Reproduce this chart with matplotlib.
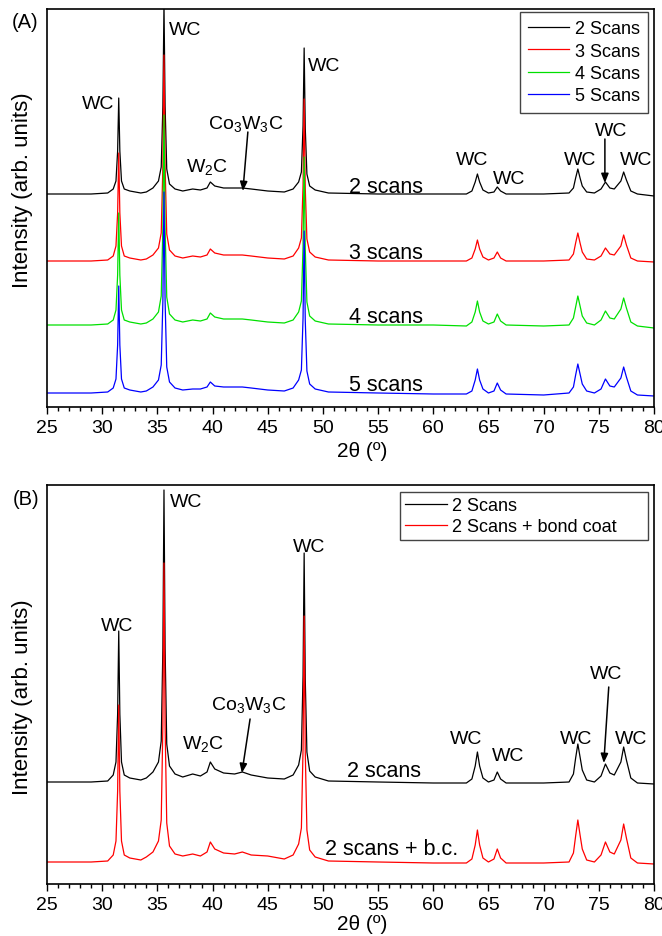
import numpy as np
import matplotlib
matplotlib.use('Agg')
import matplotlib.pyplot as plt
from matplotlib.ticker import MultipleLocator

plt.rcParams['font.family'] = ['Liberation Sans', 'DejaVu Sans']
plt.rcParams['mathtext.fontset'] = 'custom'
plt.rcParams['mathtext.rm'] = 'Liberation Sans'

two_theta = [25, 27, 29, 30.5, 31.0, 31.25, 31.4, 31.5, 31.6, 31.75,
             32.0, 32.5, 33.5, 34.0, 34.6, 35.1, 35.35, 35.5, 35.6, 35.7,
             35.85, 36.1, 36.6, 37.3, 38.2, 38.9, 39.5, 39.8, 40.2, 41.0,
             42.0, 42.7, 43.5, 45.0, 46.5, 47.3, 47.8, 48.05, 48.2, 48.3,
             48.4, 48.55, 48.8, 49.3, 50.5, 55, 60, 63.0, 63.5, 63.8,
             64.0, 64.2, 64.5, 65.0, 65.5, 65.8, 66.1, 66.6, 70, 72.3,
             72.7, 72.9, 73.1, 73.3, 73.5, 73.9, 74.6, 75.2, 75.6, 76.0,
             76.4, 77.0, 77.25, 77.5, 77.9, 78.5, 80]

# intensidades (u.a.) acima da linha de base de cada curva - painel A
a_2scans = [0, 0, 0, 1, 5, 13, 43, 96, 43, 13,
            5, 3, 1, 2, 6, 13, 27, 88, 190, 88,
            25, 10, 5, 3, 5, 4, 6, 12, 8, 6,
            6, 6, 5, 3, 2, 5, 12, 22, 68, 146,
            66, 20, 8, 4, 1, 0, 0, 0, 3, 12,
            20, 12, 4, 1, 2, 7, 3, 0, 0, 1,
            6, 16, 25, 16, 8, 2, 1, 5, 12, 6,
            5, 13, 22, 14, 3, 0, -2]
a_3scans = [0, 0, 0, 1, 5, 15, 48, 108, 48, 15,
            5, 3, 1, 2, 6, 13, 28, 95, 206, 95,
            27, 11, 5, 3, 5, 4, 6, 12, 8, 6,
            6, 6, 5, 3, 2, 5, 13, 23, 75, 162,
            73, 22, 9, 4, 1, 0, 0, 0, 3, 12,
            21, 12, 4, 1, 3, 9, 3, 0, 0, 1,
            7, 18, 28, 18, 9, 2, 1, 5, 13, 7,
            6, 15, 26, 16, 3, 0, -1]
a_4scans = [0, 0, 0, 1, 5, 15, 50, 112, 50, 15,
            5, 3, 1, 2, 6, 13, 29, 97, 210, 97,
            28, 11, 5, 3, 5, 4, 6, 12, 8, 6,
            6, 6, 5, 3, 2, 5, 13, 24, 78, 168,
            76, 23, 9, 4, 1, 0, 0, -1, 3, 13,
            24, 13, 4, 1, 3, 11, 4, 0, -1, 0,
            7, 18, 29, 19, 9, 2, 0, 5, 14, 7,
            6, 16, 27, 17, 3, -1, -3]
a_5scans = [0, 0, 0, 1, 5, 14, 48, 107, 48, 14,
            5, 3, 1, 2, 6, 13, 28, 92, 201, 92,
            26, 11, 5, 3, 4, 4, 6, 11, 7, 6,
            6, 6, 5, 3, 2, 5, 13, 23, 75, 162,
            73, 22, 9, 4, 1, 0, -1, -1, 2, 13,
            24, 13, 4, 0, 2, 10, 3, -1, -2, 0,
            6, 18, 29, 19, 9, 2, 0, 4, 14, 7,
            6, 15, 26, 16, 2, -2, -3]

# painel B
b_2scans = [0, 0, 0, 1, 7, 20, 68, 151, 68, 20,
            7, 4, 2, 4, 10, 20, 41, 134, 292, 134,
            38, 16, 8, 5, 8, 6, 10, 20, 13, 9,
            8, 10, 7, 4, 3, 7, 17, 32, 106, 229,
            103, 30, 11, 5, 1, 0, -1, -1, 3, 16,
            30, 16, 4, 0, 2, 10, 3, -1, -1, 0,
            8, 24, 38, 25, 12, 2, 0, 6, 18, 9,
            7, 20, 35, 22, 4, -1, -2]
b_2scans_bc = [0, 0, 0, 1, 7, 21, 71, 157, 71, 21,
               7, 4, 2, 5, 10, 21, 42, 137, 299, 137,
               39, 16, 8, 6, 8, 6, 10, 20, 13, 9,
               8, 10, 7, 6, 3, 7, 18, 34, 113, 246,
               111, 32, 12, 5, 1, 0, -1, -1, 3, 17,
               32, 17, 4, 0, 3, 13, 4, -1, -1, 0,
               9, 26, 42, 27, 13, 2, 0, 7, 20, 10,
               8, 22, 38, 24, 4, -1, -2]

labels_a = ['2 Scans', '3 Scans', '4 Scans', '5 Scans']
labels_b = ['2 Scans', '2 Scans + bond coat']
colors_a = ['black', '#ff0000', '#00e000', '#0000ff']
colors_b = ['black', '#ff0000']
# deslocamento vertical de cada curva (empilhamento)
offsets_a = [213, 146, 82, 14]
offsets_b = [102, 22]

W, H = 662, 937


def style_axis(ax, ymax):
    ax.set_xlim(25, 80)
    ax.set_ylim(0, ymax)
    ax.xaxis.set_major_locator(MultipleLocator(5))
    ax.xaxis.set_minor_locator(MultipleLocator(1))
    ax.tick_params(axis='x', which='major', direction='out', length=5, width=1,
                   labelsize=14, pad=4)
    ax.tick_params(axis='x', which='minor', direction='out', length=3, width=1)
    ax.set_yticks([])
    for s in ax.spines.values():
        s.set_linewidth(1.2)
    ax.set_xlabel('2\u03b8 (\u00ba)', fontsize=15)
    ax.set_ylabel('Intensity (arb. units)', fontsize=16)
    ax.xaxis.label.set_va('center')
    ax.yaxis.label.set_va('center')


def wc(ax, x, y, txt='WC', size=14):
    ax.text(x, y, txt, ha='center', va='center', fontsize=size)


def arrow(ax, x0, y0, x1, y1):
    ax.annotate('', xy=(x1, y1), xytext=(x0, y0),
                arrowprops=dict(arrowstyle='-|>,head_length=0.55,head_width=0.22',
                                color='black', lw=1.1, shrinkA=0, shrinkB=0))


fig = plt.figure(figsize=(W / 100, H / 100), dpi=100)

# ---- painel A
ax_a = fig.add_axes([47 / W, 1 - 408 / H, 607 / W, 398 / H])
x = np.array(two_theta)
series_a = [a_2scans, a_3scans, a_4scans, a_5scans]
for y, off, c, lab in zip(series_a, offsets_a, colors_a, labels_a):
    ax_a.plot(x, np.array(y) + off, color=c, lw=0.9, label=lab)
style_axis(ax_a, 398)
ax_a.xaxis.set_label_coords(0.52, -0.11)
ax_a.yaxis.set_label_coords(-0.041, 0.548)
ax_a.legend(loc='upper right', bbox_to_anchor=(1 - 6 / 607, 1 - 3 / 398),
            borderaxespad=0, fancybox=False, edgecolor='#444444', framealpha=1,
            fontsize=13, handlelength=2.3, handletextpad=0.3, labelspacing=0.3,
            borderpad=0.45)

wc(ax_a, 29.6, 303)
wc(ax_a, 37.5, 377)
wc(ax_a, 50.1, 341)
wc(ax_a, 43.0, 283, 'Co$_\\mathregular{3}$W$_\\mathregular{3}$C')
arrow(ax_a, 43.2, 275, 42.75, 216)
wc(ax_a, 39.5, 240, 'W$_\\mathregular{2}$C')
wc(ax_a, 63.5, 247)
wc(ax_a, 66.9, 228)
wc(ax_a, 73.3, 247)
wc(ax_a, 76.1, 276)
arrow(ax_a, 75.55, 268, 75.55, 224)
wc(ax_a, 78.35, 247)
for txt, yy in zip(['2 scans', '3 scans', '4 scans', '5 scans'], [220, 154, 90, 22]):
    ax_a.text(55.7, yy, txt, ha='center', va='center', fontsize=15.5)
fig.text(25 / W, 1 - 22 / H, '(A)', ha='center', va='center', fontsize=14.5)

# ---- painel B
ax_b = fig.add_axes([47 / W, 1 - 885 / H, 607 / W, 399 / H])
series_b = [b_2scans, b_2scans_bc]
for y, off, c, lab in zip(series_b, offsets_b, colors_b, labels_b):
    ax_b.plot(x, np.array(y) + off, color=c, lw=0.9, label=lab)
style_axis(ax_b, 399)
ax_b.xaxis.set_label_coords(0.52, -0.1)
ax_b.yaxis.set_label_coords(-0.041, 0.47)
# caixa da legenda mais larga que o texto, como no original
ax_b.legend(loc='upper left', mode='expand',
            bbox_to_anchor=((400 - 47) / 607, 1 - 7 / 399, 248 / 607, 0),
            borderaxespad=0, fancybox=False, edgecolor='#444444', framealpha=1,
            fontsize=13, handlelength=2.3, handletextpad=0.3, labelspacing=0.2,
            borderpad=0.3)

wc(ax_b, 31.34, 258)
wc(ax_b, 37.6, 382)
wc(ax_b, 48.73, 337)
wc(ax_b, 43.3, 179, 'Co$_\\mathregular{3}$W$_\\mathregular{3}$C')
arrow(ax_b, 43.4, 165, 42.66, 111)
wc(ax_b, 39.13, 140, 'W$_\\mathregular{2}$C')
wc(ax_b, 62.95, 145)
wc(ax_b, 66.76, 128)
wc(ax_b, 72.9, 145)
wc(ax_b, 77.9, 145)
wc(ax_b, 75.63, 210)
arrow(ax_b, 75.9, 197, 75.45, 121)
ax_b.text(55.5, 113, '2 scans', ha='center', va='center', fontsize=15.5)
ax_b.text(56.25, 35, '2 scans + b.c.', ha='center', va='center', fontsize=15.5)
fig.text(26 / W, 1 - 500 / H, '(B)', ha='center', va='center', fontsize=14.5)

fig.savefig('out.png', dpi=100)
